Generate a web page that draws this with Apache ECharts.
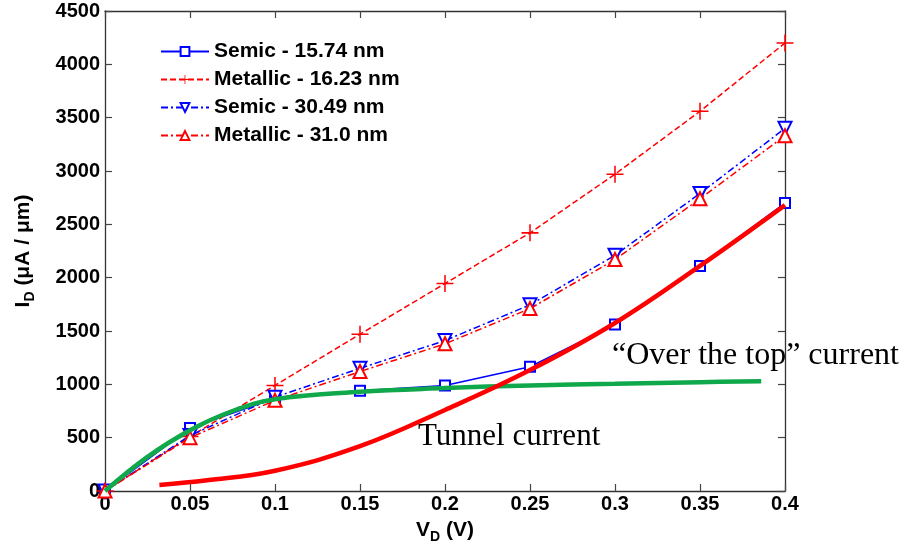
<!DOCTYPE html>
<html><head><meta charset="utf-8">
<script src="https://cdn.jsdelivr.net/npm/echarts@6/dist/echarts.min.js"></script>
<style>html,body{margin:0;padding:0;background:#fff}#c{width:906px;height:558px}</style>
</head><body><div id="c"></div>
<script>
var vd = [0, 0.05, 0.1, 0.15, 0.2, 0.25, 0.3, 0.35, 0.4];
var semic1574 = [0, 590, 870, 940, 990, 1165, 1560, 2110, 2700];
var metal1623 = [0, 510, 990, 1470, 1945, 2420, 2970, 3560, 4200];
var semic3049 = [0, 520, 880, 1150, 1410, 1745, 2210, 2790, 3400];
var metal310 = [0, 500, 850, 1120, 1380, 1710, 2170, 2740, 3330];
var overX = [0, 0.025, 0.05, 0.075, 0.1, 0.15, 0.2, 0.25, 0.3, 0.35, 0.386];
var overY = [0, 320, 570, 750, 860, 930, 965, 990, 1005, 1020, 1030];
var tunX = [0.032, 0.06, 0.1, 0.15, 0.2, 0.25, 0.3, 0.35, 0.4];
var tunY = [56, 100, 190, 420, 760, 1134, 1575, 2110, 2680];
var xTicks = ['0','0.05','0.1','0.15','0.2','0.25','0.3','0.35','0.4'];
var names = ['Semic - 15.74 nm','Metallic - 16.23 nm','Semic - 30.49 nm','Metallic - 31.0 nm'];

function pairs(xs, ys){ return xs.map(function(x,i){return [x, ys[i]];}); }
var plus = 'path://M-0.09,-1H0.09V-0.09H1V0.09H0.09V1H-0.09V0.09H-1V-0.09H-0.09Z';
var font = 'Arial, "Liberation Sans", sans-serif';
var serif = '"Liberation Serif", "Times New Roman", serif';
var axLabel = {fontFamily: font, fontWeight: 'bold', fontSize: 20, color: '#000'};
var frameLine = {onZero: false, lineStyle: {color: '#333', width: 1.3}};
var tick = {show: true, inside: true, length: 7, lineStyle: {color: '#444', width: 1.2}};
var nameRich = {
  b: {fontFamily: font, fontWeight: 'bold', fontSize: 21, color: '#000'},
  s: {fontFamily: font, fontWeight: 'bold', fontSize: 14, color: '#000', padding: [13,0,0,0]}
};

var chart = echarts.init(document.getElementById('c'), null, {renderer: 'canvas'});
chart.setOption({
  animation: false,
  backgroundColor: '#fff',
  grid: {left: 105, right: 121, top: 11, bottom: 67, containLabel: false},
  legend: {
    orient: 'vertical', left: 155, top: 36, itemWidth: 48, itemHeight: 11, itemGap: 7,
    data: names,
    textStyle: {fontFamily: font, fontWeight: 'bold', fontSize: 21, color: '#000'}
  },
  xAxis: [{
    type: 'value', min: 0, max: 0.4, interval: 0.05,
    axisLine: frameLine, axisTick: tick, splitLine: {show: false},
    axisLabel: Object.assign({margin: 3, formatter: function(v){ return xTicks[Math.round(v/0.05)]; }}, axLabel),
    name: '{b|V}{s|D}{b| (V)}', nameLocation: 'middle', nameGap: 26,
    nameTextStyle: {rich: nameRich}
  }, {
    type: 'value', min: 0, max: 0.4, interval: 0.05, position: 'top',
    axisLine: frameLine, axisTick: tick,
    axisLabel: {show: false}, splitLine: {show: false}
  }],
  yAxis: [{
    type: 'value', min: 0, max: 4500, interval: 500,
    axisLine: Object.assign({show: true}, frameLine), axisTick: tick,
    splitLine: {show: false},
    axisLabel: Object.assign({margin: 5, formatter: function(v){ return String(v); }}, axLabel),
    name: '{b|I}{s|D}{b| (μA / μm)}', nameLocation: 'middle', nameGap: 68,
    nameTextStyle: {rich: nameRich}
  }, {
    type: 'value', min: 0, max: 4500, interval: 500, position: 'right',
    axisLine: Object.assign({show: true}, frameLine), axisTick: tick,
    axisLabel: {show: false}, splitLine: {show: false}
  }],
  series: [
    {name: names[0], type: 'line', data: pairs(vd, semic1574), symbol: 'emptyRect', symbolSize: 10,
     color: '#0000ff', lineStyle: {color: '#0000ff', width: 1.5},
     itemStyle: {color: '#0000ff', borderWidth: 1.5}, z: 3},
    {name: names[1], type: 'line', data: pairs(vd, metal1623), symbol: plus, symbolSize: 17,
     color: '#ff0000', lineStyle: {color: '#ff0000', width: 1.5, type: [6,3]},
     itemStyle: {color: '#ff0000'}, z: 3},
    {name: names[2], type: 'line', data: pairs(vd, semic3049), symbol: 'emptyTriangle', symbolRotate: 180, symbolSize: 13,
     color: '#0000ff', lineStyle: {color: '#0000ff', width: 1.5, type: [7,3,2,3]},
     itemStyle: {color: '#0000ff', borderWidth: 1.5}, z: 3},
    {name: names[3], type: 'line', data: pairs(vd, metal310), symbol: 'emptyTriangle', symbolSize: 13,
     color: '#ff0000', lineStyle: {color: '#ff0000', width: 1.5, type: [7,3,2,3]},
     itemStyle: {color: '#ff0000', borderWidth: 1.5}, z: 3},
    {name: 'over', type: 'line', data: pairs(overX, overY), smooth: 0.4, showSymbol: false,
     lineStyle: {color: '#0fa84a', width: 4.5}, z: 5},
    {name: 'tunnel', type: 'line', data: pairs(tunX, tunY), smooth: 0.4, showSymbol: false,
     lineStyle: {color: '#ff0000', width: 4.5}, z: 5}
  ],
  graphic: [
    {type: 'text', x: 612, y: 356, z: 10, style: {text: '“Over the top” current', font: '32px ' + serif, fill: '#000', verticalAlign: 'middle'}},
    {type: 'text', x: 418, y: 437, z: 10, style: {text: 'Tunnel current', font: '31px ' + serif, fill: '#000', verticalAlign: 'middle'}}
  ]
});
</script></body></html>
